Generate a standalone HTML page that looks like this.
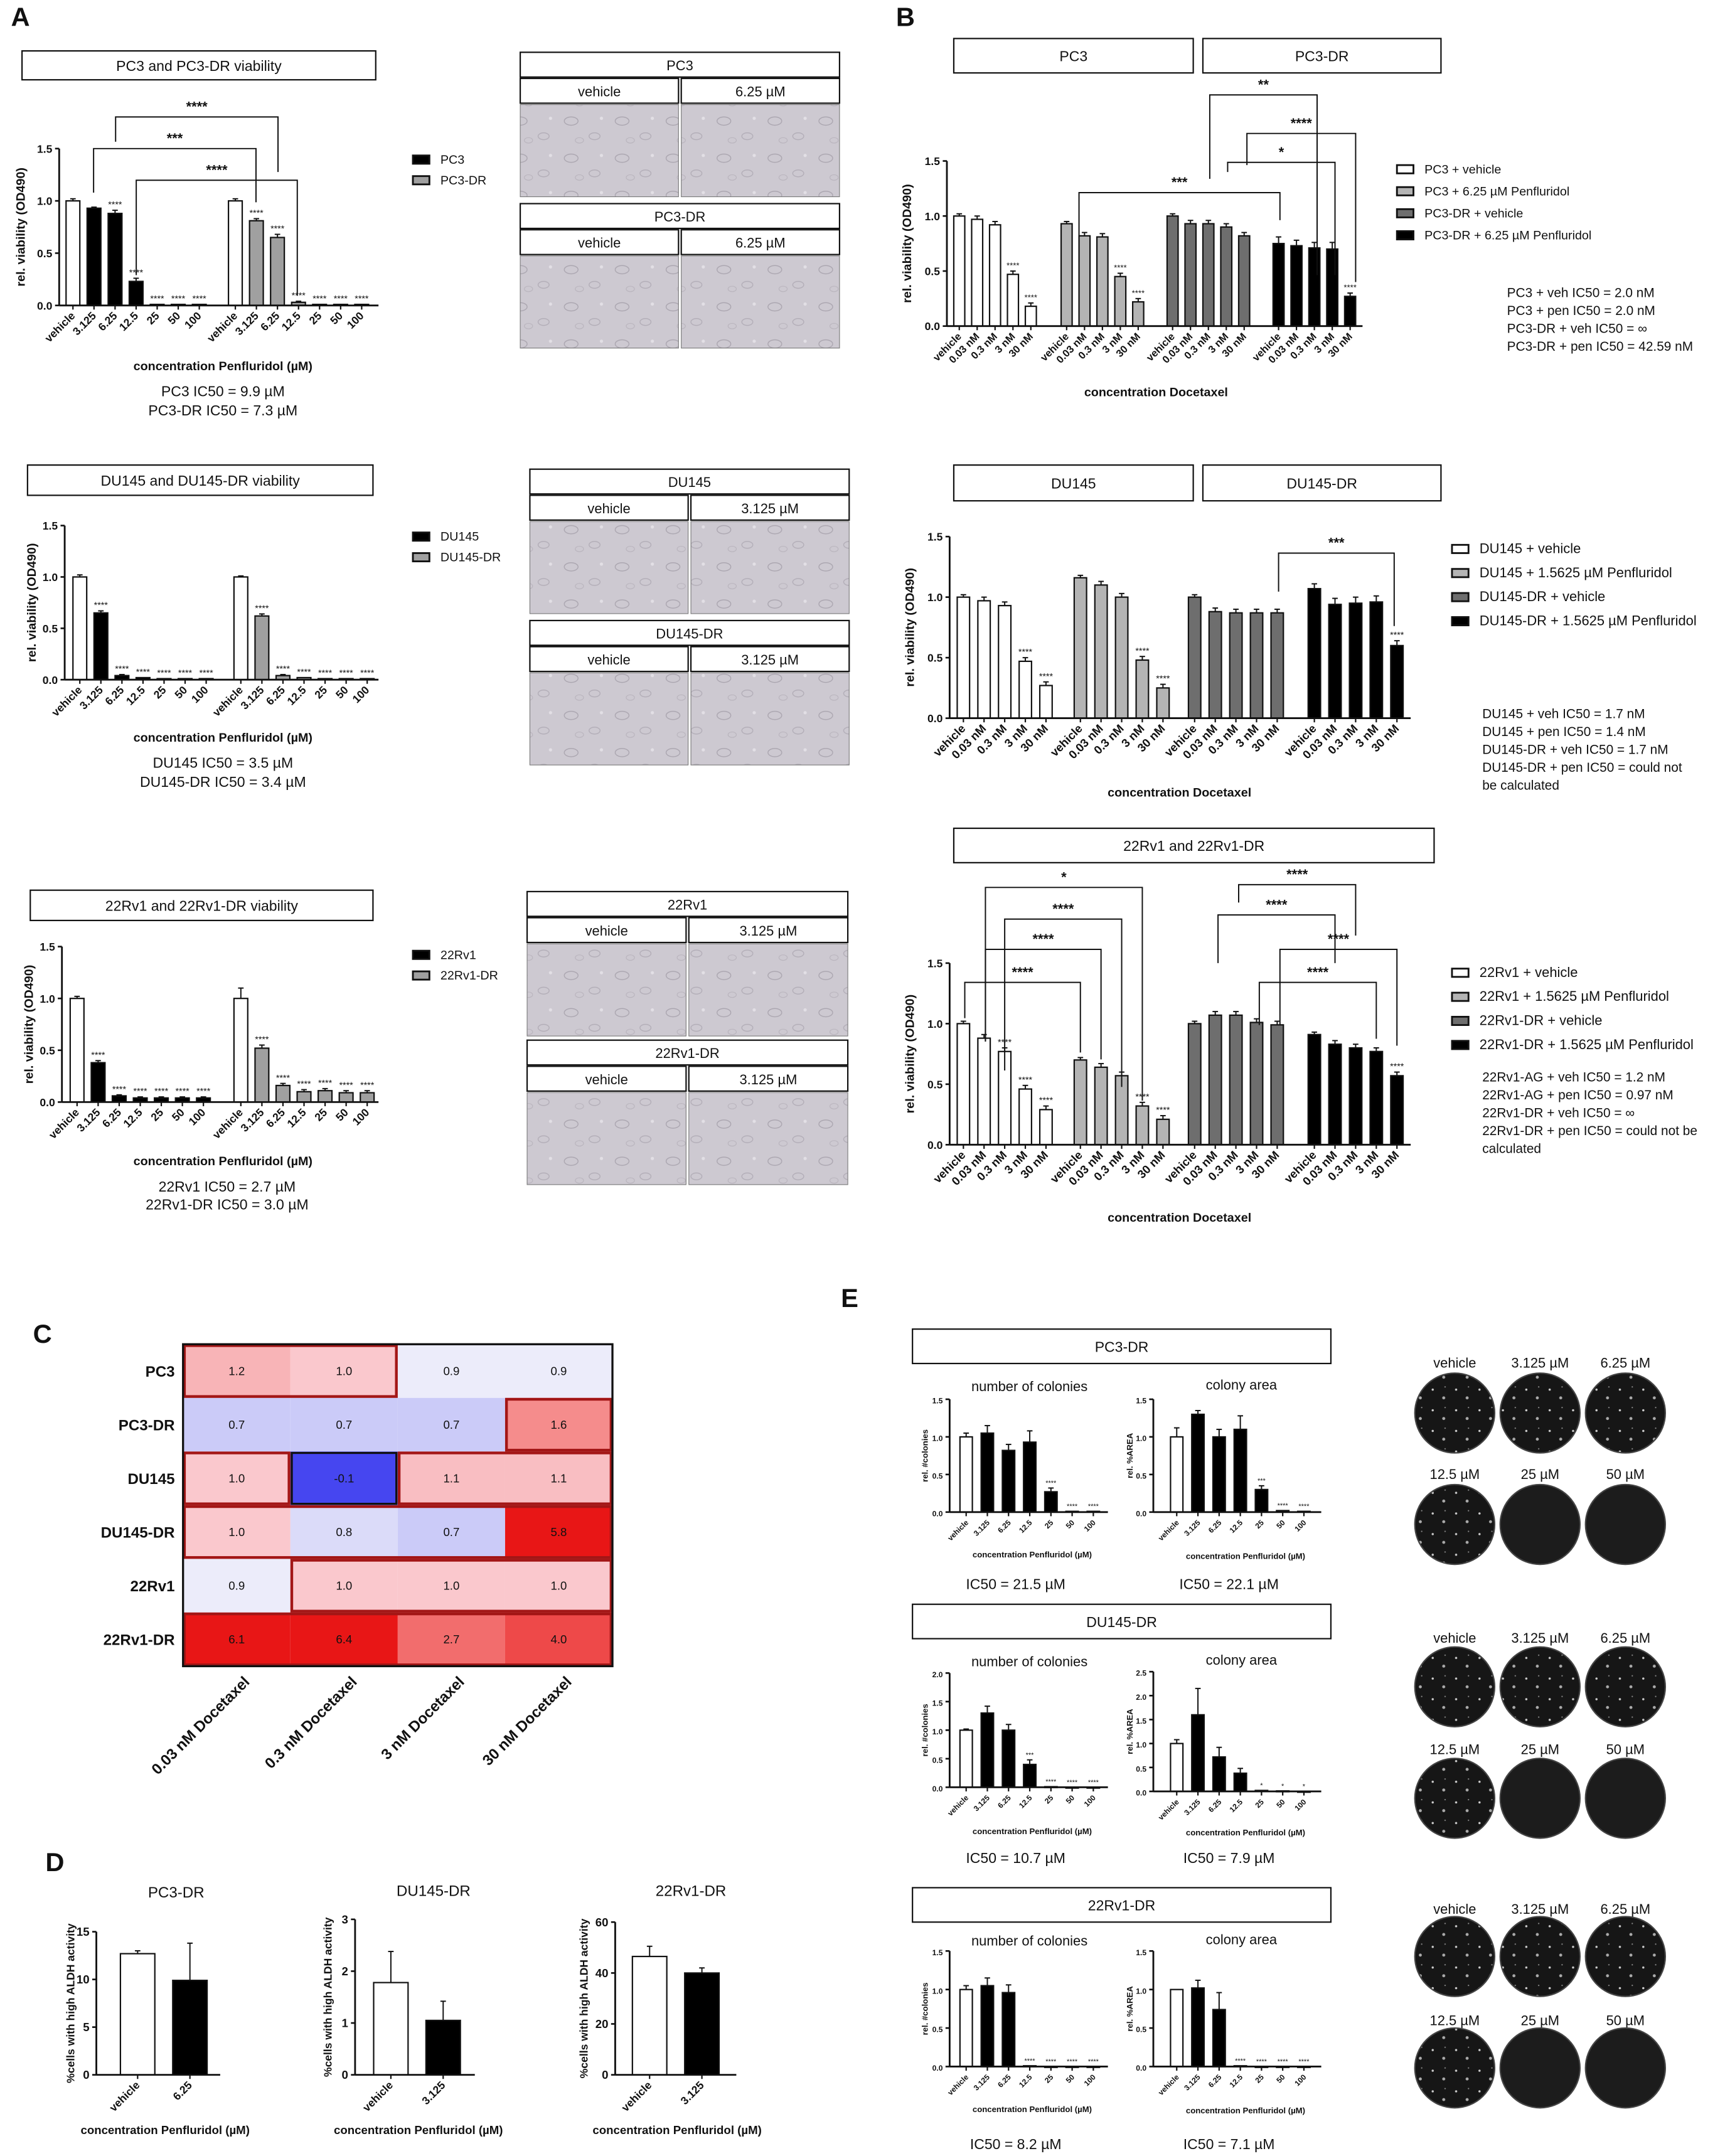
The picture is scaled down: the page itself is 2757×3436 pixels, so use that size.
<!DOCTYPE html>
<html><head><meta charset="utf-8"><style>
html,body{margin:0;padding:0;background:#fff}
svg{display:block}
text{font-family:"Liberation Sans",sans-serif;fill:#111}
</style></head><body>
<svg id="fig" width="2757" height="3436" viewBox="0 0 1257 1567" preserveAspectRatio="none" xmlns="http://www.w3.org/2000/svg">
<defs>
<pattern id="cells" width="37" height="27" patternUnits="userSpaceOnUse">
<rect width="37" height="27" fill="#cdc9d1"/>
<ellipse cx="8" cy="7" rx="5" ry="3" fill="none" stroke="#a9a4ae" stroke-width="0.6"/>
<ellipse cx="25" cy="18" rx="4" ry="2.5" fill="none" stroke="#b1acb6" stroke-width="0.6"/>
<ellipse cx="14" cy="21" rx="3" ry="2" fill="none" stroke="#b8b3bc" stroke-width="0.5"/>
<circle cx="30" cy="5" r="1.2" fill="#e2dfe5"/>
</pattern>
<pattern id="dots" width="17" height="15" patternUnits="userSpaceOnUse">
<rect width="17" height="15" fill="#161616"/>
<circle cx="4" cy="5" r="0.8" fill="#ccc"/>
<circle cx="12" cy="11" r="1.1" fill="#aaa"/>
<circle cx="13" cy="3" r="0.5" fill="#888"/>
</pattern>
</defs>
</svg>
<script>
// ---------- DATA ----------
const penLabels=["vehicle","3.125","6.25","12.5","25","50","100"];
const docLabels=["vehicle","0.03 nM","0.3 nM","3 nM","30 nM"];
const pc3Vals=[1.0,0.93,0.88,0.23,0.01,0.01,0.01];
const pc3Err=[0.02,0.01,0.03,0.03,0,0,0];
const pc3Stars=["","","****","****","****","****","****"];
const pc3drVals=[1.0,0.81,0.65,0.03,0.01,0.01,0.01];
const pc3drErr=[0.02,0.02,0.03,0.01,0,0,0];
const pc3drStars=["","****","****","****","****","****","****"];
const du145Vals=[1.0,0.65,0.04,0.02,0.01,0.01,0.01];
const du145Err=[0.02,0.02,0.01,0,0,0,0];
const du145drVals=[1.0,0.62,0.04,0.02,0.01,0.01,0.01];
const du145drErr=[0.01,0.02,0.01,0,0,0,0];
const rv1Vals=[1.0,0.38,0.06,0.04,0.04,0.04,0.04];
const rv1Err=[0.02,0.02,0.01,0.01,0.01,0.01,0.01];
const rv1drVals=[1.0,0.52,0.16,0.10,0.11,0.09,0.09];
const rv1drErr=[0.1,0.03,0.02,0.02,0.02,0.02,0.02];
const starsAfter1=["","****","****","****","****","****","****"];
const bPc3Veh=[1.0,0.97,0.92,0.47,0.18];
const bPc3Pen=[0.93,0.82,0.81,0.45,0.22];
const bPc3drVeh=[1.0,0.93,0.93,0.90,0.82];
const bPc3drPen=[0.75,0.73,0.71,0.70,0.27];
const bDuVeh=[1.0,0.97,0.93,0.47,0.27];
const bDuPen=[1.16,1.10,1.0,0.48,0.25];
const bDudrVeh=[1.0,0.88,0.87,0.87,0.87];
const bDudrPen=[1.07,0.94,0.95,0.96,0.60];
const bRvVeh=[1.0,0.88,0.77,0.46,0.29];
const bRvPen=[0.70,0.64,0.57,0.32,0.21];
const bRvdrVeh=[1.0,1.07,1.07,1.01,0.99];
const bRvdrPen=[0.91,0.83,0.80,0.77,0.57];
const bErr=[0.02,0.03,0.03,0.03,0.03];
const bStarsLast2=["","","","****","****"];
const bStarsLast1=["","","","","****"];
const bStarsNone=["","","","","",""];
const bStarsRv=["","","****","****","****"];
const heatRows=["PC3","PC3-DR","DU145","DU145-DR","22Rv1","22Rv1-DR"];
const heatCols=["0.03 nM Docetaxel","0.3 nM Docetaxel","3 nM Docetaxel","30 nM Docetaxel"];
const heatVals=[[1.2,1.0,0.9,0.9],[0.7,0.7,0.7,1.6],[1.0,-0.1,1.1,1.1],[1.0,0.8,0.7,5.8],[0.9,1.0,1.0,1.0],[6.1,6.4,2.7,4.0]];
const dLabelsPc3=["vehicle","6.25"];
const dLabels3125=["vehicle","3.125"];
const dPc3=[12.7,9.9], dPc3Err=[0.3,3.9];
const dDu=[1.78,1.05], dDuErr=[0.6,0.37];
const dRv=[46.5,40.0], dRvErr=[4,2];
const ePc3Col=[1.0,1.05,0.82,0.93,0.27,0.01,0.01], ePc3ColErr=[0.05,0.1,0.08,0.15,0.05,0,0];
const ePc3Area=[1.0,1.3,1.0,1.1,0.3,0.02,0.01], ePc3AreaErr=[0.12,0.05,0.1,0.18,0.05,0,0];
const eDuCol=[1.0,1.3,1.0,0.4,0.01,0.0,0.0], eDuColErr=[0.02,0.12,0.1,0.08,0,0,0];
const eDuArea=[1.0,1.6,0.72,0.38,0.02,0.01,0.0], eDuAreaErr=[0.08,0.55,0.2,0.1,0,0,0];
const eRvCol=[1.0,1.05,0.96,0.01,0.0,0.0,0.0], eRvColErr=[0.05,0.1,0.1,0,0,0,0];
const eRvArea=[1.0,1.02,0.74,0.01,0.0,0.0,0.0], eRvAreaErr=[0,0.1,0.22,0,0,0,0];
const eStarsPc3Col=["","","","","****","****","****"];
const eStarsPc3Area=["","","","","***","****","****"];
const eStarsDuCol=["","","","***","****","****","****"];
const eStarsDuArea=["","","","","*","*","*"];
const eStarsRv=["","","","****","****","****","****"];

// ---------- HELPERS ----------
const svg=document.getElementById('fig');
const NS='http://www.w3.org/2000/svg';
function mk(tag,attrs,name,parent){
  const e=document.createElementNS(NS,tag);
  for(const k in attrs)e.setAttribute(k,attrs[k]);
  
  
  (parent||svg).appendChild(e);return e;
}
function txt(x,y,s,size,name,opt){
  opt=opt||{};
  const a={x:x,y:y,'font-size':size,'text-anchor':opt.anchor||'middle'};
  if(opt.bold)a['font-weight']='bold';
  if(opt.rot)a.transform=`rotate(${opt.rot} ${x} ${y})`;
  const t=mk('text',a,name);t.textContent=s;return t;
}
function box(x1,y1,x2,y2,label,name,size){
  mk('rect',{x:x1,y:y1,width:x2-x1,height:y2-y1,fill:'#fff',stroke:'#111','stroke-width':1},name);
  txt((x1+x2)/2,(y1+y2)/2+4,label,size||10.5,name+'-label');
}
function bracket(x1,x2,y,y1e,y2e,label,name){
  mk('polyline',{points:`${x1},${y1e} ${x1},${y} ${x2},${y} ${x2},${y2e}`,fill:'none',stroke:'#111','stroke-width':0.9},name);
  txt((x1+x2)/2,y-4,label,10,name+'-stars',{bold:true});
}
function chart(o){
  const Y=v=>o.y0-v/o.ymax*(o.y0-o.ytop);
  const g=o.name;
  mk('line',{x1:o.ax,y1:o.y0,x2:o.ax,y2:o.ytop,stroke:'#111','stroke-width':1.3},g+'-y-axis');
  o.ticks.forEach((t,i)=>{
    mk('line',{x1:o.ax-3,y1:Y(t),x2:o.ax,y2:Y(t),stroke:'#111','stroke-width':1.2},g+'-y-tick');
    txt(o.ax-5,Y(t)+3,o.tickLabels[i],o.tfs||8,g+'-y-tick-label',{anchor:'end',bold:true});
  });
  let xmax=o.ax;
  o.series.forEach((s,si)=>{
    s.vals.forEach((v,i)=>{
      const cx=s.start+i*s.step;xmax=Math.max(xmax,cx+s.step/2);
      const fill=(i===0&&s.firstWhite)?'#fff':s.fill;
      const h=o.y0-Y(v);
      mk('rect',{x:cx-o.bw/2,y:Y(v),width:o.bw,height:Math.max(h,0.6),fill:fill,stroke:'#111','stroke-width':1},g+'-bar-'+si+'-'+i);
      const e=(s.errs||[])[i]||0;
      if(e>0){
        mk('line',{x1:cx,y1:Y(v),x2:cx,y2:Y(v+e),stroke:'#111','stroke-width':0.9},g+'-error-bar');
        mk('line',{x1:cx-2,y1:Y(v+e),x2:cx+2,y2:Y(v+e),stroke:'#111','stroke-width':0.9},g+'-error-cap');
      }
      const st=(s.stars||[])[i];
      if(st)txt(cx,Y(v+e)-2,st,o.sfs||6.5,g+'-sig-stars');
      mk('line',{x1:cx,y1:o.y0,x2:cx,y2:o.y0+3,stroke:'#111','stroke-width':1},g+'-x-tick');
      txt(cx+2,o.y0+8,o.labels[i],o.lfs||8,g+'-x-label',{anchor:'end',bold:true,rot:-45});
    });
  });
  mk('line',{x1:o.ax,y1:o.y0,x2:o.xend||xmax,y2:o.y0,stroke:'#111','stroke-width':1.3},g+'-x-axis');
  if(o.ytitle)txt(o.ytitleX,(o.y0+o.ytop)/2,o.ytitle,o.ytfs||9,g+'-y-axis-title',{bold:true,rot:-90});
  if(o.xtitle)txt(o.xtitleX,o.xtitleY,o.xtitle,o.xtfs||9,g+'-x-axis-title',{bold:true});
}
function legend(x,y0,dy,items,fills,name,size){
  items.forEach((s,i)=>{
    mk('rect',{x:x,y:y0+i*dy-6,width:12,height:6,fill:fills[i],stroke:'#111','stroke-width':1.3},name+'-swatch');
    txt(x+20,y0+i*dy,s,size||9,name+'-entry',{anchor:'start'});
  });
}
function micro(x1,x2,y,title,treat,name){
  const mid=(x1+x2)/2;
  box(x1,y,x2,y+18,title,name+'-header',10);
  box(x1,y+19,mid-1,y+37,'vehicle',name+'-vehicle-header',10);
  box(mid+1,y+19,x2,y+37,treat,name+'-treated-header',10);
  mk('rect',{x:x1,y:y+38,width:mid-1-x1,height:67,fill:'url(#cells)',stroke:'#777','stroke-width':0.5},name+'-vehicle-image');
  mk('rect',{x:mid+1,y:y+38,width:x2-mid-1,height:67,fill:'url(#cells)',stroke:'#777','stroke-width':0.5},name+'-treated-image');
}
const txtLines=(x,y,dy,lines,size,name,anchor)=>lines.forEach((l,i)=>txt(x,y+i*dy,l,size,name,{anchor:anchor||'middle'}));

// ---------- PANEL LETTERS ----------
[['A',8,19],['B',651,19],['C',24,976],['D',33,1360],['E',611,950]].forEach(p=>txt(p[1],p[2],p[0],19,'panel-letter-'+p[0],{anchor:'start',bold:true}));

// ---------- PANEL A ----------
const ticksA=[0,0.5,1.0,1.5], tickLabA=["0.0","0.5","1.0","1.5"];
box(16,37,273,58,'PC3 and PC3-DR viability','a-pc3-title-box');
chart({name:'a-pc3',ax:43,y0:222,ytop:108,ymax:1.5,ticks:ticksA,tickLabels:tickLabA,bw:10,labels:penLabels,
  series:[{vals:pc3Vals,errs:pc3Err,stars:pc3Stars,fill:'#000',firstWhite:true,start:53,step:15.3},
          {vals:pc3drVals,errs:pc3drErr,stars:pc3drStars,fill:'#a0a0a0',firstWhite:true,start:171,step:15.3}],
  xend:275,ytitle:'rel. viability (OD490)',ytitleX:18,xtitle:'concentration Penfluridol (µM)',xtitleX:162,xtitleY:269});
bracket(84,202,85,103,125,'****','a-pc3-bracket-1');
bracket(68,186,108,140,147,'***','a-pc3-bracket-2');
bracket(99,216,131,200,215,'****','a-pc3-bracket-3');
legend(300,119,15,['PC3','PC3-DR'],['#000','#a0a0a0'],'a-pc3-legend');
txtLines(162,288,14,['PC3 IC50 = 9.9 µM','PC3-DR IC50 = 7.3 µM'],10.5,'a-pc3-ic50');

box(20,338,271,360,'DU145 and DU145-DR viability','a-du145-title-box');
chart({name:'a-du145',ax:47,y0:494,ytop:382,ymax:1.5,ticks:ticksA,tickLabels:tickLabA,bw:10,labels:penLabels,
  series:[{vals:du145Vals,errs:du145Err,stars:starsAfter1,fill:'#000',firstWhite:true,start:58,step:15.3},
          {vals:du145drVals,errs:du145drErr,stars:starsAfter1,fill:'#a0a0a0',firstWhite:true,start:175,step:15.3}],
  xend:275,ytitle:'rel. viability (OD490)',ytitleX:26,xtitle:'concentration Penfluridol (µM)',xtitleX:162,xtitleY:539});
legend(300,393,15,['DU145','DU145-DR'],['#000','#a0a0a0'],'a-du145-legend');
txtLines(162,558,14,['DU145 IC50 = 3.5 µM','DU145-DR IC50 = 3.4 µM'],10.5,'a-du145-ic50');

box(22,647,271,669,'22Rv1 and 22Rv1-DR viability','a-22rv1-title-box');
chart({name:'a-22rv1',ax:45,y0:801,ytop:688,ymax:1.5,ticks:ticksA,tickLabels:tickLabA,bw:10,labels:penLabels,
  series:[{vals:rv1Vals,errs:rv1Err,stars:starsAfter1,fill:'#000',firstWhite:true,start:56,step:15.3},
          {vals:rv1drVals,errs:rv1drErr,stars:starsAfter1,fill:'#a0a0a0',firstWhite:true,start:175,step:15.3}],
  xend:275,ytitle:'rel. viability (OD490)',ytitleX:24,xtitle:'concentration Penfluridol (µM)',xtitleX:162,xtitleY:847});
legend(300,697,15,['22Rv1','22Rv1-DR'],['#000','#a0a0a0'],'a-22rv1-legend');
txtLines(165,866,13,['22Rv1 IC50 = 2.7 µM','22Rv1-DR IC50 = 3.0 µM'],10.5,'a-22rv1-ic50');

micro(378,610,38,'PC3','6.25 µM','a-pc3-micro');
micro(378,610,148,'PC3-DR','6.25 µM','a-pc3dr-micro');
micro(385,617,341,'DU145','3.125 µM','a-du145-micro');
micro(385,617,451,'DU145-DR','3.125 µM','a-du145dr-micro');
micro(383,616,648,'22Rv1','3.125 µM','a-22rv1-micro');
micro(383,616,756,'22Rv1-DR','3.125 µM','a-22rv1dr-micro');

// ---------- PANEL B ----------
const bFills=['#fff','#b4b4b4','#6e6e6e','#000'];
box(693,28,867,53,'PC3','b-pc3-box');
box(874,28,1047,53,'PC3-DR','b-pc3dr-box');
chart({name:'b-pc3',ax:688,y0:237,ytop:117,ymax:1.5,ticks:ticksA,tickLabels:tickLabA,bw:8,labels:docLabels,lfs:7.5,sfs:6,
  series:[{vals:bPc3Veh,errs:bErr,stars:bStarsLast2,fill:bFills[0],start:697,step:13},
          {vals:bPc3Pen,errs:bErr,stars:bStarsLast2,fill:bFills[1],start:775,step:13},
          {vals:bPc3drVeh,errs:bErr,stars:bStarsNone,fill:bFills[2],start:852,step:13},
          {vals:bPc3drPen,errs:[0.06,0.05,0.05,0.06,0.03],stars:bStarsLast1,fill:bFills[3],start:929,step:13}],
  xend:990,ytitle:'rel. viability (OD490)',ytitleX:662,xtitle:'concentration Docetaxel',xtitleX:840,xtitleY:288});
bracket(879,957,69,130,200,'**','b-pc3-bracket-1');
bracket(906,985,97,120,205,'****','b-pc3-bracket-2');
bracket(892,970,118,125,200,'*','b-pc3-bracket-3');
bracket(784,930,140,190,160,'***','b-pc3-bracket-4');
legend(1015,126,16,['PC3 + vehicle','PC3 + 6.25 µM Penfluridol','PC3-DR + vehicle','PC3-DR + 6.25 µM Penfluridol'],bFills,'b-pc3-legend',9);
txtLines(1095,216,13,['PC3 + veh IC50 = 2.0 nM','PC3 + pen IC50 = 2.0 nM','PC3-DR + veh IC50 = ∞','PC3-DR + pen IC50 = 42.59 nM'],9.5,'b-pc3-ic50','start');

box(693,338,867,364,'DU145','b-du145-box');
box(874,338,1047,364,'DU145-DR','b-du145dr-box');
chart({name:'b-du145',ax:690,y0:522,ytop:390,ymax:1.5,ticks:ticksA,tickLabels:tickLabA,bw:9,labels:docLabels,lfs:8.5,sfs:6.5,
  series:[{vals:bDuVeh,errs:bErr,stars:bStarsLast2,fill:bFills[0],start:700,step:15},
          {vals:bDuPen,errs:bErr,stars:bStarsLast2,fill:bFills[1],start:785,step:15},
          {vals:bDudrVeh,errs:bErr,stars:bStarsNone,fill:bFills[2],start:868,step:15},
          {vals:bDudrPen,errs:[0.04,0.05,0.05,0.05,0.04],stars:bStarsLast1,fill:bFills[3],start:955,step:15},],
  xend:1025,ytitle:'rel. viability (OD490)',ytitleX:664,xtitle:'concentration Docetaxel',xtitleX:857,xtitleY:579});
bracket(929,1013,402,430,455,'***','b-du145-bracket');
legend(1055,402,17.5,['DU145 + vehicle','DU145 + 1.5625 µM Penfluridol','DU145-DR + vehicle','DU145-DR + 1.5625 µM Penfluridol'],bFills,'b-du145-legend',10);
txtLines(1077,522,13,['DU145 + veh IC50 = 1.7 nM','DU145 + pen IC50 = 1.4 nM','DU145-DR + veh IC50 = 1.7 nM','DU145-DR + pen IC50 = could not','be calculated'],9.5,'b-du145-ic50','start');

box(693,602,1042,627,'22Rv1 and 22Rv1-DR','b-22rv1-box');
chart({name:'b-22rv1',ax:690,y0:832,ytop:700,ymax:1.5,ticks:ticksA,tickLabels:tickLabA,bw:9,labels:docLabels,lfs:8.5,sfs:6.5,
  series:[{vals:bRvVeh,errs:bErr,stars:bStarsRv,fill:bFills[0],start:700,step:15},
          {vals:bRvPen,errs:bErr,stars:bStarsLast2,fill:bFills[1],start:785,step:15},
          {vals:bRvdrVeh,errs:bErr,stars:bStarsNone,fill:bFills[2],start:868,step:15},
          {vals:bRvdrPen,errs:bErr,stars:bStarsLast1,fill:bFills[3],start:955,step:15}],
  xend:1025,ytitle:'rel. viability (OD490)',ytitleX:664,xtitle:'concentration Docetaxel',xtitleX:857,xtitleY:888});
bracket(716,830,645,757,800,'*','b-22rv1-bracket-1');
bracket(730,815,668,778,790,'****','b-22rv1-bracket-2');
bracket(716,800,690,757,770,'****','b-22rv1-bracket-3');
bracket(701,785,714,740,765,'****','b-22rv1-bracket-4');
bracket(900,985,643,656,680,'****','b-22rv1-bracket-5');
bracket(885,970,665,700,700,'****','b-22rv1-bracket-6');
bracket(930,1015,690,745,760,'****','b-22rv1-bracket-7');
bracket(915,1000,714,745,755,'****','b-22rv1-bracket-8');
legend(1055,710,17.5,['22Rv1 + vehicle','22Rv1 + 1.5625 µM Penfluridol','22Rv1-DR + vehicle','22Rv1-DR + 1.5625 µM Penfluridol'],bFills,'b-22rv1-legend',10);
txtLines(1077,786,13,['22Rv1-AG + veh IC50 = 1.2 nM','22Rv1-AG + pen IC50 = 0.97 nM','22Rv1-DR + veh IC50 = ∞','22Rv1-DR + pen IC50 = could not be','calculated'],9.5,'b-22rv1-ic50','start');

// ---------- PANEL C (heatmap) ----------
function heatColor(v){
  const lerp=(a,b,t)=>a.map((c,i)=>Math.round(c+(b[i]-c)*Math.max(0,Math.min(1,t))));
  let c;
  if(v<0.9)c=lerp([70,70,240],[236,236,250],(v+0.1)/1.0);
  else if(v<1.0)c=lerp([236,236,250],[250,200,205],(v-0.9)/0.1);
  else if(v<1.6)c=lerp([250,200,205],[245,140,140],(v-1.0)/0.6);
  else c=lerp([245,140,140],[232,22,22],(v-1.6)/4.2);
  return `rgb(${c[0]},${c[1]},${c[2]})`;
}
const hx=133,hy=977,cw=78,ch=39;
heatVals.forEach((row,r)=>row.forEach((v,c)=>{
  mk('rect',{x:hx+c*cw,y:hy+r*ch,width:cw,height:ch,fill:heatColor(v)},'heatmap-cell-'+heatRows[r]+'-'+c);
  txt(hx+c*cw+cw/2,hy+r*ch+ch/2+3,v.toFixed(1),8.5,'heatmap-value',{});
}));
heatRows.forEach((s,r)=>txt(hx-6,hy+r*ch+ch/2+4,s,11,'heatmap-row-label',{anchor:'end',bold:true}));
heatCols.forEach((s,c)=>txt(hx+c*cw+cw/2+10,hy+6*ch+12,s,11,'heatmap-col-label',{anchor:'end',bold:true,rot:-45}));
[[0,0,2,1],[3,1,1,1],[0,2,1,1],[2,2,2,1],[0,3,4,1],[1,4,3,1],[0,5,4,1]].forEach(o=>
  mk('rect',{x:hx+o[0]*cw+1,y:hy+o[1]*ch+1,width:o[2]*cw-2,height:o[3]*ch-2,fill:'none',stroke:'#a31616','stroke-width':2},'heatmap-outline'));
mk('rect',{x:hx+cw+1,y:hy+2*ch+1,width:cw-2,height:ch-2,fill:'none',stroke:'#111','stroke-width':1.5},'heatmap-outline-neg');
mk('rect',{x:hx,y:hy,width:4*cw,height:6*ch,fill:'none',stroke:'#111','stroke-width':1.5},'heatmap-border');

// ---------- PANEL D ----------
const dy0=1508;
chart({name:'d-pc3dr',ax:70,y0:dy0,ytop:1404,ymax:15,ticks:[0,5,10,15],tickLabels:['0','5','10','15'],tfs:8.5,bw:25,labels:dLabelsPc3,lfs:8,
  series:[{vals:dPc3,errs:dPc3Err,fill:'#000',firstWhite:true,start:100,step:38}],xend:160,
  ytitle:'%cells with high ALDH activity',ytitleX:54,ytfs:8,xtitle:'concentration Penfluridol (µM)',xtitleX:120,xtitleY:1551,xtfs:8.5});
txt(128,1379,'PC3-DR',11,'d-pc3dr-title');
chart({name:'d-du145dr',ax:258,y0:dy0,ytop:1395,ymax:3,ticks:[0,1,2,3],tickLabels:['0','1','2','3'],tfs:8.5,bw:25,labels:dLabels3125,lfs:8,
  series:[{vals:dDu,errs:dDuErr,fill:'#000',firstWhite:true,start:284,step:38}],xend:345,
  ytitle:'%cells with high ALDH activity',ytitleX:241,ytfs:8,xtitle:'concentration Penfluridol (µM)',xtitleX:304,xtitleY:1551,xtfs:8.5});
txt(315,1378,'DU145-DR',11,'d-du145dr-title');
chart({name:'d-22rv1dr',ax:447,y0:dy0,ytop:1397,ymax:60,ticks:[0,20,40,60],tickLabels:['0','20','40','60'],tfs:8.5,bw:25,labels:dLabels3125,lfs:8,
  series:[{vals:dRv,errs:dRvErr,fill:'#000',firstWhite:true,start:472,step:38}],xend:535,
  ytitle:'%cells with high ALDH activity',ytitleX:427,ytfs:8,xtitle:'concentration Penfluridol (µM)',xtitleX:492,xtitleY:1551,xtfs:8.5});
txt(502,1378,'22Rv1-DR',11,'d-22rv1dr-title');

// ---------- PANEL E ----------
function ePair(prefix,boxY,title,colY0,colTop,colMax,colT,colTL,areaY0,areaTop,areaMax,areaT,areaTL,col,colE,colS,area,areaE,areaS,ic1,ic2,titleY,xtY,icY){
  box(663,boxY,967,boxY+25,title,prefix+'-box');
  txt(748,titleY,'number of colonies',10,prefix+'-colonies-title');
  txt(902,titleY-1,'colony area',10,prefix+'-area-title');
  chart({name:prefix+'-colonies',ax:690,y0:colY0,ytop:colTop,ymax:colMax,ticks:colT,tickLabels:colTL,tfs:5.5,bw:9,labels:penLabels,lfs:5.5,sfs:5,
    series:[{vals:col,errs:colE,stars:colS,fill:'#000',firstWhite:true,start:702,step:15.4}],xend:805,
    ytitle:'rel. #colonies',ytitleX:674,ytfs:6,xtitle:'concentration Penfluridol (µM)',xtitleX:750,xtitleY:xtY,xtfs:6});
  chart({name:prefix+'-area',ax:838,y0:areaY0,ytop:areaTop,ymax:areaMax,ticks:areaT,tickLabels:areaTL,tfs:5.5,bw:9,labels:penLabels,lfs:5.5,sfs:5,
    series:[{vals:area,errs:areaE,stars:areaS,fill:'#000',firstWhite:true,start:855,step:15.4}],xend:960,
    ytitle:'rel. %AREA',ytitleX:823,ytfs:6,xtitle:'concentration Penfluridol (µM)',xtitleX:905,xtitleY:xtY+1,xtfs:6});
  txt(738,icY,ic1,10.5,prefix+'-colonies-ic50');
  txt(893,icY,ic2,10.5,prefix+'-area-ic50');
}
const t15=[0,0.5,1.0,1.5],t15L=['0.0','0.5','1.0','1.5'];
ePair('e-pc3dr',966,'PC3-DR',1099,1017,1.5,t15,t15L,1099,1017,1.5,t15,t15L,ePc3Col,ePc3ColErr,eStarsPc3Col,ePc3Area,ePc3AreaErr,eStarsPc3Area,'IC50 = 21.5 µM','IC50 = 22.1 µM',1011,1132,1155);
ePair('e-du145dr',1166,'DU145-DR',1299,1216,2.0,[0,0.5,1,1.5,2],['0.0','0.5','1.0','1.5','2.0'],1302,1215,2.5,[0,0.5,1,1.5,2,2.5],['0.0','0.5','1.0','1.5','2.0','2.5'],eDuCol,eDuColErr,eStarsDuCol,eDuArea,eDuAreaErr,eStarsDuArea,'IC50 = 10.7 µM','IC50 =  7.9 µM',1211,1333,1354);
ePair('e-22rv1dr',1372,'22Rv1-DR',1502,1418,1.5,t15,t15L,1502,1418,1.5,t15,t15L,eRvCol,eRvColErr,eStarsRv,eRvArea,eRvAreaErr,eStarsRv,'IC50 = 8.2 µM','IC50 = 7.1 µM',1414,1535,1562);

const dishLabels=[['vehicle','3.125 µM','6.25 µM'],['12.5 µM','25 µM','50 µM']];
const dishX=[1057,1119,1181];
[[994,1027,1075,1108],[1194,1226,1275,1307],[1391,1422,1472,1503]].forEach((r,gi)=>{
  [0,1].forEach(row=>dishX.forEach((x,ci)=>{
    txt(x,r[row*2],dishLabels[row][ci],10,'e-dish-label');
    mk('circle',{cx:x,cy:r[row*2+1],r:29,fill:row===1&&ci>0?'#1c1c1c':'url(#dots)',stroke:'#444','stroke-width':1},'e-colony-dish');
  }));
});
</script>
</body></html>
